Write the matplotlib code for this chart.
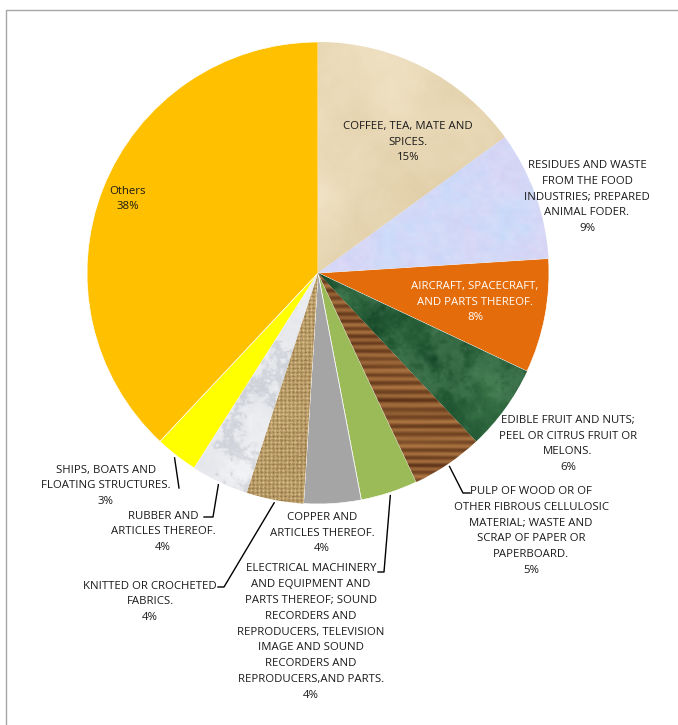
import numpy as np
import matplotlib.pyplot as plt
from matplotlib.patches import Rectangle

# export groups and their shares (%)
categories = [
    "COFFEE, TEA, MATE AND\nSPICES.",
    "RESIDUES AND WASTE\nFROM THE FOOD\nINDUSTRIES; PREPARED\nANIMAL FODER.",
    "AIRCRAFT, SPACECRAFT,\nAND PARTS THEREOF.",
    "EDIBLE FRUIT AND NUTS;\nPEEL OR CITRUS FRUIT OR\nMELONS.",
    "PULP OF WOOD OR OF\nOTHER FIBROUS CELLULOSIC\nMATERIAL; WASTE AND\nSCRAP OF PAPER OR\nPAPERBOARD.",
    "ELECTRICAL MACHINERY\nAND EQUIPMENT AND\nPARTS THEREOF; SOUND\nRECORDERS AND\nREPRODUCERS, TELEVISION\nIMAGE AND SOUND\nRECORDERS AND\nREPRODUCERS,AND PARTS.",
    "COPPER AND\nARTICLES THEREOF.",
    "KNITTED OR CROCHETED\nFABRICS.",
    "RUBBER AND\nARTICLES THEREOF.",
    "SHIPS, BOATS AND\nFLOATING STRUCTURES.",
    "Others",
]
shares = [15, 9, 8, 6, 5, 4, 4, 4, 4, 3, 38]

W, H = 678, 725
CX, CY, R = 318, H - 273, 231

# label block centres in pixel coords (x, y from top)
label_xy = [(408, 142), (587, 197), (475, 302), (568, 444), (531, 531),
            (311, 632), (322, 533), (150, 602), (163, 532), (106, 486),
            (128, 199)]
label_color = ["#1A1A1A"] * 11
label_color[2] = "white"

# leader line elbows (pixel coords) for the labels sitting outside the pie
leaders = {
    4: [(463, 493), (470, 493)],
    5: [(384, 572), (378, 572)],
    7: [(224, 587), (218, 587)],
    8: [(213, 517), (204, 517)],
    9: [(179, 488)],
}

rng = np.random.default_rng(11)
N = 2 * R


def upsample(a, ny, nx):
    h, w = a.shape
    y = np.linspace(0, h - 1, ny)
    x = np.linspace(0, w - 1, nx)
    y0 = np.floor(y).astype(int)
    x0 = np.floor(x).astype(int)
    y1 = np.minimum(y0 + 1, h - 1)
    x1 = np.minimum(x0 + 1, w - 1)
    fy = (y - y0)[:, None]
    fx = (x - x0)[None, :]
    top = a[y0][:, x0] * (1 - fx) + a[y0][:, x1] * fx
    bot = a[y1][:, x0] * (1 - fx) + a[y1][:, x1] * fx
    return top * (1 - fy) + bot * fy


def fbm(base=4, octaves=6, rough=0.55):
    total = np.zeros((N, N))
    amp, norm = 1.0, 0.0
    for k in range(octaves):
        size = base * 2 ** k + 1
        total += amp * upsample(rng.random((size, size)), N, N)
        norm += amp
        amp *= rough
    t = total / norm
    return (t - t.min()) / (t.max() - t.min())


def blend(t, c0, c1):
    c0 = np.array(c0, float)
    c1 = np.array(c1, float)
    return (c0 + (c1 - c0) * t[..., None]) / 255.0


def mix(img, t, c):
    c = np.array(c, float) / 255.0
    return img * (1 - t[..., None]) + c * t[..., None]


yy, xx = np.mgrid[0:N, 0:N].astype(float)

# parchment
parchment = blend(fbm(3, 7, 0.62), (220, 200, 158), (246, 234, 208))

# pale blue with lilac mottling
t = fbm(10, 5, 0.8)
lilac = blend(t, (192, 218, 250), (218, 206, 242))
lilac = mix(lilac, 0.3 * fbm(60, 2, 0.8), (240, 244, 255))

# green marble
green_marble = blend(fbm(8, 6, 0.75), (14, 62, 34), (58, 118, 72))
g = fbm(5, 6, 0.7)
vein = np.exp(-((g - 0.55) * 10) ** 2)
green_marble = mix(green_marble, 0.3 * vein, (110, 160, 120))

# wood grain: bands run along the rows
rows = np.arange(N, dtype=float)
band = 0.5 + 0.5 * np.sin(2 * np.pi * rows / 8.0 + 1.5 * np.sin(rows / 23.0))
band_depth = upsample(rng.random((N // 6, 1)).repeat(2, axis=1), N, 2)[:, 0]
row_tone = np.clip(0.6 * band + 0.4 * band_depth, 0, 1)
grain = upsample(rng.random((N // 2, 8)), N, N)
wood_t = np.clip(0.8 * row_tone[:, None] + 0.2 * grain, 0, 1)
wood = blend(wood_t, (82, 42, 18), (186, 128, 72))

# burlap weave
wx = 0.5 + 0.5 * np.cos(2 * np.pi * xx / 4.0)
wy = 0.5 + 0.5 * np.cos(2 * np.pi * yy / 4.0)
weave = np.clip(0.35 * wx + 0.35 * wy + 0.3 * rng.random((N, N)), 0, 1)
burlap = blend(0.75 * weave + 0.25 * fbm(5, 4, 0.6), (128, 95, 48), (232, 206, 152))

# white marble: soft grey clouds and faint veins
white_marble = blend(fbm(6, 6, 0.7), (214, 218, 224), (248, 248, 250))
m = fbm(4, 7, 0.72)
mv = np.exp(-((m - 0.5) * 16) ** 2)
white_marble = mix(white_marble, 0.3 * mv, (150, 156, 168))

textures = {0: parchment, 1: lilac, 3: green_marble, 4: wood, 7: burlap, 8: white_marble}
colors = ["#E8D6B0", "#CCD8F2", "#E46C0A", "#22603A", "#8B5A2B", "#9BBB59",
          "#A5A5A5", "#C8A872", "#E4E6EA", "#FFFF00", "#FFC000"]

fig = plt.figure(figsize=(W / 100, H / 100), dpi=100)
ax = fig.add_axes([0, 0, 1, 1])

wedges, _ = ax.pie(shares, colors=colors, startangle=90, counterclock=False,
                   center=(CX, CY), radius=R,
                   wedgeprops=dict(edgecolor="white", linewidth=0.5))

for i, tex in textures.items():
    im = ax.imshow(tex, extent=(CX - R, CX + R, CY - R, CY + R), origin="upper",
                   interpolation="nearest", zorder=wedges[i].get_zorder() + 0.1)
    im.set_clip_path(wedges[i])

ax.set_xlim(0, W)
ax.set_ylim(0, H)
ax.set_aspect("auto")
ax.axis("off")

# chart area border
ax.add_patch(Rectangle((5.5, -20), W + 20, H - 9.5 + 20, fill=False,
                       edgecolor="#A6A6A6", linewidth=1.0, zorder=0))

for i, (name, val) in enumerate(zip(categories, shares)):
    x, y = label_xy[i]
    ax.text(x, H - y, f"{name}\n{val}%", ha="center", va="center",
            fontsize=8.2, family="Open Sans", color=label_color[i],
            linespacing=1.6, zorder=5)

for i, pts in leaders.items():
    mid = 90 - 360 * (sum(shares[:i]) + shares[i] / 2) / 100
    a = np.deg2rad(mid)
    sx = CX + (R + 3) * np.cos(a)
    sy = CY + (R + 3) * np.sin(a)
    xs = [sx] + [p[0] for p in pts]
    ys = [sy] + [H - p[1] for p in pts]
    ax.plot(xs, ys, color="black", linewidth=1.0, zorder=5)

fig.savefig("out.png", dpi=100)
